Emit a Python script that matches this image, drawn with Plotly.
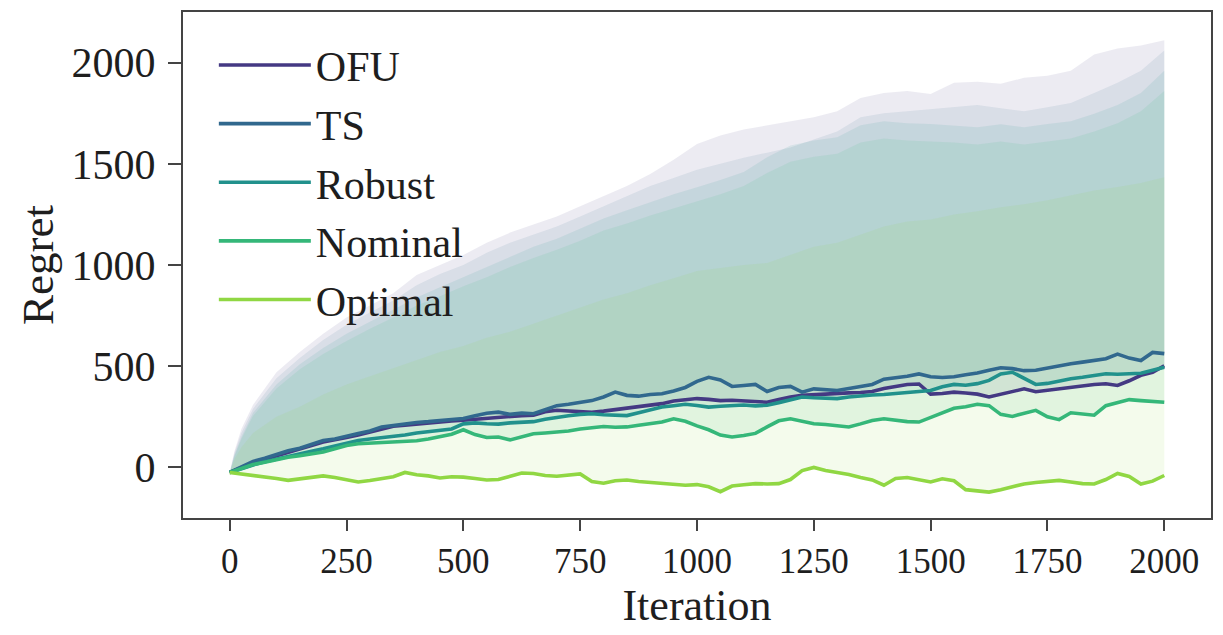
import plotly.graph_objects as go

# ---------------- data ----------------
iters = list(range(0, 2001, 25))

ofu = [-25, 0, 22, 40, 58, 75, 90, 108, 125, 135, 148, 160, 175, 192, 203, 208, 214, 218, 225, 230,
       233, 238, 245, 250, 252, 256, 258, 275, 282, 280, 276, 272, 278, 285, 290, 298, 308, 315, 328, 335,
       340, 336, 330, 332, 328, 325, 322, 335, 348, 356, 360, 362, 365, 368, 370, 375, 390, 402, 410, 412,
       362, 365, 372, 368, 362, 348, 360, 375, 388, 374, 382, 390, 396, 402, 410, 413, 405, 428, 455, 470, 502]

ts = [-25, 5, 30, 45, 65, 82, 95, 115, 133, 140, 155, 168, 180, 200, 207, 215, 222, 226, 232, 240,
      242, 255, 268, 273, 262, 268, 265, 285, 305, 312, 320, 330, 348, 372, 356, 352, 360, 364, 378, 395,
      425, 445, 432, 400, 405, 410, 375, 395, 400, 372, 388, 384, 380, 390, 398, 410, 436, 442, 450, 462,
      448, 444, 448, 458, 466, 480, 492, 488, 478, 480, 492, 500, 512, 520, 530, 537, 560, 540, 528, 568, 562]

robust = [-25, -5, 12, 28, 42, 56, 68, 80, 92, 105, 120, 133, 140, 146, 152, 160, 170, 176, 182, 190,
          215, 220, 216, 214, 220, 224, 226, 238, 248, 255, 262, 265, 260, 258, 256, 270, 285, 298, 305, 312,
          306, 298, 302, 306, 308, 304, 307, 320, 335, 348, 344, 340, 340, 348, 354, 358, 360, 364, 368, 374,
          380, 398, 410, 406, 414, 430, 462, 470, 440, 410, 415, 428, 438, 445, 455, 463, 460, 462, 465, 480, 495]

nominal = [-25, -5, 14, 25, 38, 50, 58, 66, 76, 92, 108, 117, 120, 124, 126, 130, 132, 140, 152, 164,
           186, 162, 148, 150, 136, 150, 166, 170, 174, 180, 190, 198, 202, 198, 200, 208, 216, 224, 240, 228,
           205, 186, 160, 150, 158, 168, 200, 230, 240, 228, 216, 212, 206, 200, 215, 232, 240, 232, 226, 224,
           248, 268, 292, 300, 312, 305, 262, 252, 268, 282, 250, 236, 270, 262, 258, 305, 318, 335, 330, 326, 322]

optimal = [-25, -32, -38, -45, -55, -64, -58, -48, -42, -50, -60, -72, -65, -55, -46, -25, -36, -42, -52, -46,
           -48, -55, -62, -60, -42, -28, -30, -40, -44, -38, -32, -70, -78, -66, -62, -70, -74, -80, -84, -88,
           -85, -96, -120, -92, -86, -80, -82, -80, -60, -16, 0, -15, -25, -35, -50, -62, -88, -55, -50, -62,
           -72, -56, -66, -110, -118, -122, -110, -95, -82, -75, -68, -64, -72, -80, -82, -60, -30, -45, -82, -68, -40]

band_iters = [0, 10, 25, 50] + list(range(100, 2001, 50))

ofu_upper = [-25, 80, 190, 310, 470, 570, 660, 740, 800, 860, 950, 1000, 1050, 1110, 1160, 1200, 1240, 1290,
             1340, 1390, 1450, 1520, 1598, 1640, 1670, 1690, 1710, 1730, 1760, 1825, 1850, 1860, 1845, 1900,
             1905, 1895, 1925, 1935, 1960, 2040, 2070, 2085, 2110]

ts_upper = [-25, 70, 170, 290, 440, 540, 630, 705, 765, 825, 900, 955, 1000, 1060, 1110, 1150, 1190, 1240,
            1290, 1340, 1390, 1430, 1470, 1500, 1530, 1555, 1580, 1620, 1660, 1730, 1750, 1760, 1770, 1780,
            1790, 1775, 1760, 1780, 1800, 1850, 1900, 1960, 2060]

robust_upper = [-25, 60, 150, 270, 410, 510, 590, 660, 720, 780, 840, 890, 940, 990, 1040, 1090, 1130, 1180,
                1230, 1270, 1310, 1350, 1384, 1420, 1460, 1532, 1590, 1615, 1631, 1690, 1710, 1700, 1697, 1690,
                1680, 1695, 1680, 1697, 1710, 1747, 1790, 1850, 1960]

nominal_upper = [-25, 55, 140, 255, 390, 485, 560, 625, 685, 740, 800, 845, 895, 940, 990, 1035, 1075, 1120,
                 1170, 1205, 1245, 1280, 1315, 1350, 1390, 1455, 1510, 1535, 1550, 1605, 1625, 1615, 1610, 1605,
                 1595, 1610, 1595, 1610, 1625, 1660, 1700, 1760, 1860]

optimal_upper = [-25, 40, 100, 170, 250, 300, 360, 410, 450, 490, 530, 570, 600, 640, 670, 710, 750, 790,
                 830, 860, 900, 935, 970, 985, 1000, 1010, 1050, 1090, 1110, 1150, 1190, 1215, 1225, 1250,
                 1265, 1285, 1300, 1320, 1345, 1368, 1385, 1405, 1434]

names = ["OFU", "TS", "Robust", "Nominal", "Optimal"]
means = [ofu, ts, robust, nominal, optimal]
uppers = [ofu_upper, ts_upper, robust_upper, nominal_upper, optimal_upper]
colors = ["#443983", "#31688e", "#21918c", "#35b779", "#90d743"]

x_ticks = [0, 250, 500, 750, 1000, 1250, 1500, 1750, 2000]
y_ticks = [0, 500, 1000, 1500, 2000]


def rgba(hex_color, a):
    h = hex_color.lstrip("#")
    r, g, b = int(h[0:2], 16), int(h[2:4], 16), int(h[4:6], 16)
    return f"rgba({r},{g},{b},{a})"


fig = go.Figure()

# shaded bands: from each mean curve up to its upper curve
for name, m, u, c in zip(names, means, uppers, colors):
    fig.add_trace(go.Scatter(
        x=band_iters + iters[::-1],
        y=u + m[::-1],
        fill="toself",
        fillcolor=rgba(c, 0.10),
        line=dict(width=0),
        mode="lines",
        hoverinfo="skip",
        showlegend=False,
    ))

# mean lines
for i, (name, m, c) in enumerate(zip(names, means, colors)):
    fig.add_trace(go.Scatter(
        x=iters, y=m, mode="lines", name=name,
        line=dict(color=c, width=3.6),
        legendgroup=name,
    ))

serif = "Liberation Serif, Times New Roman, serif"
txt = "#1e1e1e"

fig.update_layout(
    width=1223, height=635,
    margin=dict(l=183, r=10, t=12, b=117),
    paper_bgcolor="white",
    plot_bgcolor="white",
    font=dict(family=serif, size=36, color=txt),
    showlegend=True,
    legend=dict(
        x=0.03, y=0.962, xanchor="left", yanchor="top",
        bgcolor="rgba(0,0,0,0)",
        font=dict(family=serif, size=42, color=txt),
        tracegroupgap=1,
        itemwidth=92,
    ),
)

fig.update_xaxes(
    range=[-100, 2100],
    tickmode="array", tickvals=x_ticks, ticktext=[str(v) for v in x_ticks],
    ticks="outside", ticklen=11, tickwidth=1.5, tickcolor="#444444",
    showline=True, linecolor="#444444", linewidth=2, mirror=True,
    showgrid=False, zeroline=False,
    tickfont=dict(family=serif, size=35, color=txt),
    title=dict(text="Iteration", font=dict(family=serif, size=44, color=txt), standoff=2),
)
fig.update_yaxes(
    range=[-250, 2250],
    tickmode="array", tickvals=y_ticks, ticktext=[str(v) for v in y_ticks],
    ticks="outside", ticklen=13, tickwidth=1.5, tickcolor="#444444",
    showline=True, linecolor="#444444", linewidth=2, mirror=True,
    showgrid=False, zeroline=False,
    ticklabelstandoff=4,
    tickfont=dict(family=serif, size=42, color=txt),
    title=dict(text="Regret", font=dict(family=serif, size=45, color=txt), standoff=4),
)

fig.write_html("out.html")
